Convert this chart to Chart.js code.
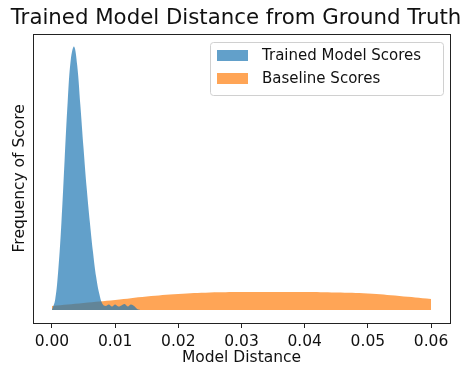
<!DOCTYPE html>
<html>
<head>
<meta charset="utf-8">
<script src="https://cdn.jsdelivr.net/npm/chart.js@4/dist/chart.umd.min.js"></script>
<style>
  html, body { margin: 0; padding: 0; background: #fff; }
  #wrap { width: 472px; height: 367px; }
</style>
</head>
<body>
<div id="wrap"><canvas id="myChart" width="472" height="367"></canvas></div>
<script>
// Densidad estimada (KDE)
const trainedX = [0.0000, 0.0005, 0.0010, 0.0015, 0.0020, 0.0025, 0.0030, 0.0035, 0.0040, 0.0045,
                  0.0050, 0.0055, 0.0060, 0.0065, 0.0070, 0.0075, 0.0080, 0.0085, 0.0090, 0.0095,
                  0.0100, 0.0105, 0.0110, 0.0115, 0.0120, 0.0125, 0.0130, 0.0135, 0.0140];
const trainedY = [0, 10, 40, 88, 150, 210, 252, 264, 245, 205,
                  162, 122, 88, 58, 33, 16, 6, 4, 5.5, 3.5,
                  5.5, 3.5, 4.5, 6, 3.5, 5.5, 4, 1, 0];

const baselineX = [0.000, 0.005, 0.010, 0.015, 0.020, 0.025, 0.030, 0.035, 0.040, 0.045, 0.050, 0.055, 0.060];
const baselineY = [4, 7, 10, 13.5, 16, 17.5, 18, 18, 18, 17.5, 16.5, 14, 11];

const xTicks = [0.00, 0.01, 0.02, 0.03, 0.04, 0.05, 0.06];
const seriesNames = ['Trained Model Scores', 'Baseline Scores'];

const blue = 'rgba(31, 119, 180, 0.7)';
const orange = 'rgba(255, 127, 14, 0.7)';
const FONT = "'DejaVu Sans', sans-serif";

function toPoints(xs, ys) {
    return xs.map((x, i) => ({ x: x, y: ys[i] }));
}

// Marco completo (las 4 espinas) y leyenda con borde dentro del área
const framePlugin = {
    id: 'frame',
    afterDraw(chart) {
        const ctx = chart.ctx;
        const a = chart.chartArea;
        ctx.save();
        ctx.strokeStyle = '#222';
        ctx.lineWidth = 1;
        ctx.strokeRect(Math.round(a.left) + 0.5, Math.round(a.top) + 0.5,
                       Math.round(a.right - a.left), Math.round(a.bottom - a.top));

        // leyenda
        const bx = 210, by = 42, bw = 233, bh = 53;
        ctx.fillStyle = 'rgba(255,255,255,0.8)';
        ctx.strokeStyle = '#d0d0d0';
        ctx.beginPath();
        ctx.roundRect(bx + 0.5, by + 0.5, bw, bh, 3);
        ctx.fill();
        ctx.stroke();
        ctx.font = '15px ' + FONT;
        ctx.textBaseline = 'middle';
        chart.data.datasets.forEach((ds, i) => {
            const cy = by + 13 + i * 23;
            ctx.fillStyle = ds.backgroundColor;
            ctx.fillRect(bx + 7, cy - 5, 31, 11);
            ctx.fillStyle = '#111';
            ctx.fillText(ds.label, bx + 52, cy + 1);
        });
        ctx.restore();
    }
};

const ctx = document.getElementById('myChart').getContext('2d');
const chart = new Chart(ctx, {
    type: 'line',
    data: {
        datasets: [{
            label: seriesNames[0],
            data: toPoints(trainedX, trainedY),
            backgroundColor: blue,
            borderWidth: 0,
            pointRadius: 0,
            tension: 0.4,
            fill: 'origin'
        }, {
            label: seriesNames[1],
            data: toPoints(baselineX, baselineY),
            backgroundColor: orange,
            borderWidth: 0,
            pointRadius: 0,
            tension: 0.4,
            fill: 'origin'
        }]
    },
    options: {
        responsive: false,
        animation: false,
        layout: { padding: 0 },
        plugins: {
            legend: { display: false },
            tooltip: { enabled: false },
            title: {
                display: true,
                text: 'Trained Model Distance from Ground Truth',
                color: '#111',
                font: { family: FONT, size: 21.3, weight: 'normal' },
                padding: { top: 6, bottom: 2 }
            }
        },
        scales: {
            x: {
                type: 'linear',
                min: -0.003,
                max: 0.063,
                afterBuildTicks: scale => { scale.ticks = xTicks.map(v => ({ value: v })); },
                afterFit: scale => { scale.height = 44; },
                border: { display: false },
                grid: { display: true, drawOnChartArea: false, drawTicks: true, tickLength: 5, color: '#222' },
                ticks: {
                    color: '#111',
                    padding: 5,
                    maxRotation: 0,
                    autoSkip: false,
                    font: { family: FONT, size: 15.5 },
                    callback: v => Number(v).toFixed(2)
                },
                title: {
                    display: true,
                    text: 'Model Distance',
                    color: '#111',
                    font: { family: FONT, size: 15.5 },
                    padding: { top: 0, bottom: 0 }
                }
            },
            y: {
                min: -13,
                max: 277,
                afterFit: scale => { scale.width = 33; },
                border: { display: false },
                grid: { display: false },
                ticks: { display: false },
                title: {
                    display: true,
                    text: 'Frequency of Score',
                    color: '#111',
                    font: { family: FONT, size: 15.5 },
                    padding: { top: 11, bottom: 0 }
                }
            },
            // margen derecho vacío, para que el título quede centrado en todo el lienzo
            yRight: {
                position: 'right',
                min: -13,
                max: 277,
                afterFit: scale => { scale.width = 22; },
                border: { display: false },
                grid: { display: false },
                ticks: { display: false }
            }
        }
    },
    plugins: [framePlugin]
});
</script>
</body>
</html>
